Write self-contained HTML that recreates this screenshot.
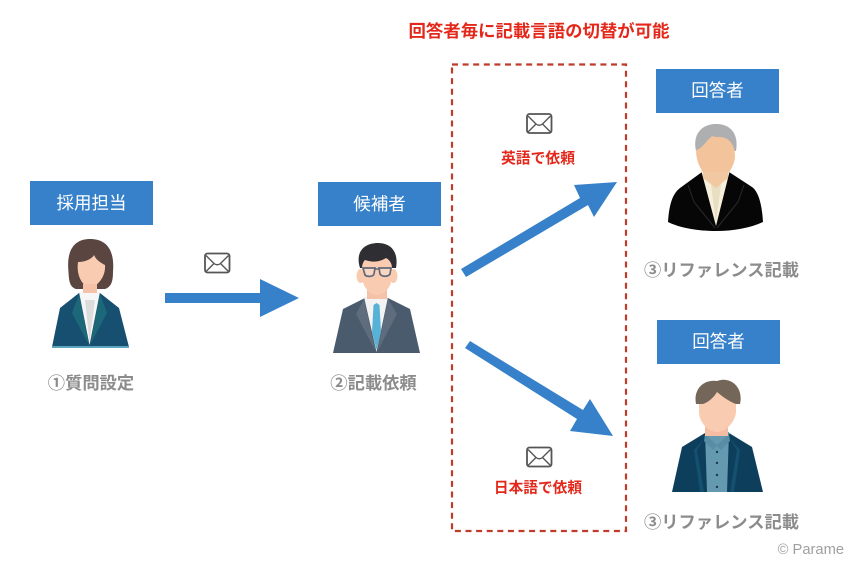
<!DOCTYPE html>
<html lang="ja">
<head>
<meta charset="utf-8">
<style>
html,body{margin:0;padding:0;background:#fff;}
svg{display:block;}
text{font-family:"Liberation Sans","Noto Sans CJK JP",sans-serif;}
.box{fill:#3681c9;}
.bl{fill:#fff;font-size:17.5px;text-anchor:middle;}
.gl{fill:#8c8c8c;font-size:17.3px;font-weight:bold;text-anchor:middle;}
.rd{fill:#e3281b;font-weight:bold;text-anchor:middle;}
.ar{fill:#3681c9;}
.m{fill:none;stroke:#555;stroke-width:1.8;}
.m2{fill:none;stroke:#555;stroke-width:1.4;}
</style>
</head>
<body>
<svg width="854" height="561" viewBox="0 0 854 561" xmlns="http://www.w3.org/2000/svg">
<defs>
<g id="mail">
<rect x="1" y="1" width="24.500" height="19" rx="2.500" class="m"/>
<path d="M2 3 L10 11 Q13.250 13.500 16.500 11 L24.500 3 M2 19 L10 11 M24.500 19 L16.500 11" class="m2"/>
</g>
</defs>
<rect width="854" height="561" fill="#fff"/>

<text x="539" y="37" class="rd" font-size="17" textLength="261" lengthAdjust="spacingAndGlyphs">回答者毎に記載言語の切替が可能</text>
<rect x="452" y="64.500" width="174" height="466.500" fill="none" stroke="#bf3b2a" stroke-width="2.200" stroke-dasharray="6 4.600"/>

<rect x="30" y="181" width="123" height="44" class="box"/>
<text x="91.500" y="209" class="bl">採用担当</text>
<rect x="318" y="182" width="123" height="44" class="box"/>
<text x="379.500" y="210" class="bl">候補者</text>
<rect x="656" y="69" width="123" height="44" class="box"/>
<text x="717.500" y="96.500" class="bl">回答者</text>
<rect x="657" y="320" width="123" height="44" class="box"/>
<text x="718.500" y="347.500" class="bl">回答者</text>

<!-- arrows -->
<path class="ar" d="M165 293 H260 V279 L299 298 L260 317 V303 H165 Z"/>
<path class="ar" d="M461 269 L580 198 L574 185 L617 182 L594 217 L588 205 L466 277 Z"/>
<path class="ar" d="M470 341 L583 410 L590 399 L613 436 L570 431 L577 419 L465 348 Z"/>

<!-- mail icons -->
<use href="#mail" x="204" y="252.500"/>
<use href="#mail" x="526" y="113"/>
<use href="#mail" x="526" y="446.500"/>

<text x="538" y="163" class="rd" font-size="14.800">英語で依頼</text>
<text x="538" y="492.500" class="rd" font-size="14.700">日本語で依頼</text>

<!-- person 1 -->
<path d="M52 347 L60 308 L79 293 H100 L119 308 L129 347 Z" fill="#174f70"/>
<path d="M52 346 H129 V348 H52 Z" fill="#5ba6bd"/>
<path d="M79 292 L89.500 345 L100 292 Z" fill="#f6f6f6"/>
<path d="M85 300 L89.500 342 L95 300 Z" fill="#dcdcdc"/>
<path d="M79 294 L72 313 L89 345 Z M100 294 L107 313 L90 345 Z" fill="#1d6878"/>
<path d="M68.500 272 C66 248 76 239 90 239 C105 239 115 248 113 272 C113 282 111 287 105 289 L76 289 C70 287 69 282 68.500 272 Z" fill="#5a4541"/>
<path d="M78 262 C85 262 92 259 94 255 C96 260 101 263 105 265 C106 277 97 287 90 287 C83 287 76 276 78 262 Z" fill="#f9ccb2"/>
<rect x="83" y="284" width="14" height="9" fill="#f5c2a7"/>

<!-- person 2 -->
<path d="M333 353 L343 309 L365 298 H388 L410 309 L420 353 Z" fill="#4a5b6e"/>
<path d="M364 297 H388 L376.500 352 Z" fill="#f3f3f3"/>
<path d="M364 299 L356 314 L375.500 351 Z M388 299 L397 314 L377.500 351 Z" fill="#5e6c7e"/>
<path d="M373.500 305 L376.500 303 L379.500 305 L381 332 L376.500 350 L372 332 Z" fill="#56b2d6"/>
<rect x="367" y="283" width="20" height="16" fill="#f5c2a7"/>
<ellipse cx="360.500" cy="276" rx="4" ry="7" fill="#f9ccb2"/>
<ellipse cx="393.500" cy="276" rx="4" ry="7" fill="#f9ccb2"/>
<path d="M362 258 H392 V276 C392 287 384 295 377 295 C370 295 362 287 362 276 Z" fill="#f9ccb2"/>
<path d="M360 268 C355 252 364 243 378 243 C390 243 399 251 396 268 L392 268 C392 262 388 259 386 258 C378 263 371 262 365 260 C363 262 362 265 362 268 Z" fill="#2f2f33"/>
<path d="M363 268 H375 L374 274 C373 277 367 277 365 275 Z M379 268 H391 L390 274 C388 277 382 277 380 274 Z" fill="#f7d7c2" stroke="#616a78" stroke-width="1.700"/>
<path d="M375 269 H379" stroke="#616a78" stroke-width="1.500"/>

<!-- person 3 -->
<path d="M668 222 C669 206 672 194 680 188 L702 172 H729 L752 187 C759 192 762 206 763 222 C750 228 733 231 716 231 C698 231 680 228 668 222 Z" fill="#060606"/>
<path d="M701 170 L716 226 L730 170 Z" fill="#f6efdc"/>
<path d="M711 185 L716 222 L721 185 L716 180 Z" fill="#e8deC2"/>
<path d="M688 185 L694 202 L715 228 M744 185 L738 202 L717 228" fill="none" stroke="#2a2a2a" stroke-width="1"/>
<path d="M696 151 C692 133 703 124 716 124 C730 124 739 133 736 151 Z" fill="#aeafb0"/>
<path d="M696 150 C702 149 706 141 712 136 C717 138 722 136 727 139 C732 142 735 148 735 156 C735 166 726 180 716 180 C706 180 696 166 696 150 Z" fill="#f3c49b"/>
<path d="M703 172 H728 V178 L716 188 L703 178 Z" fill="#f2c8a2"/>

<!-- person 4 -->
<path d="M672 492 L682 447 L705 433 H729 L752 447 L763 492 Z" fill="#0d3f5c"/>
<path d="M705 432 H729 L727 492 H707 Z" fill="#6499b0"/>
<path d="M705 434 L717 445 L729 434 L730 441 L721 450 L717 446 L713 450 L704 441 Z" fill="#578ea6"/>
<path d="M705 438 L697 450 L704 492 H700 L694 450 Z M729 438 L737 450 L730 492 H734 L740 450 Z" fill="#14506f"/>
<circle cx="717" cy="452" r="1.200" fill="#1d3b50"/>
<circle cx="717" cy="463" r="1.200" fill="#1d3b50"/>
<circle cx="717" cy="475" r="1.200" fill="#1d3b50"/>
<circle cx="717" cy="487" r="1.200" fill="#1d3b50"/>
<rect x="705" y="422" width="23" height="14" fill="#f4bda3"/>
<path d="M696 404 C693 388 705 379 717 381 C729 376 744 386 740 404 Z" fill="#75665a"/>
<path d="M699 404 H703 C709 402 714 397 717 392 C723 397 730 402 736 404 V412 C735 423 725 432 717 432 C709 432 699 423 699 412 Z" fill="#f9ccb2"/>

<!-- gray labels -->
<text x="91" y="389" class="gl">①質問設定</text>
<text x="373.500" y="389" class="gl">②記載依頼</text>
<text x="721.500" y="276" class="gl" textLength="155" lengthAdjust="spacingAndGlyphs">③リファレンス記載</text>
<text x="721.500" y="528" class="gl" textLength="155" lengthAdjust="spacingAndGlyphs">③リファレンス記載</text>
<text x="844" y="554" fill="#a0a0a0" font-size="14.700" text-anchor="end">© Parame</text>
</svg>
</body>
</html>
